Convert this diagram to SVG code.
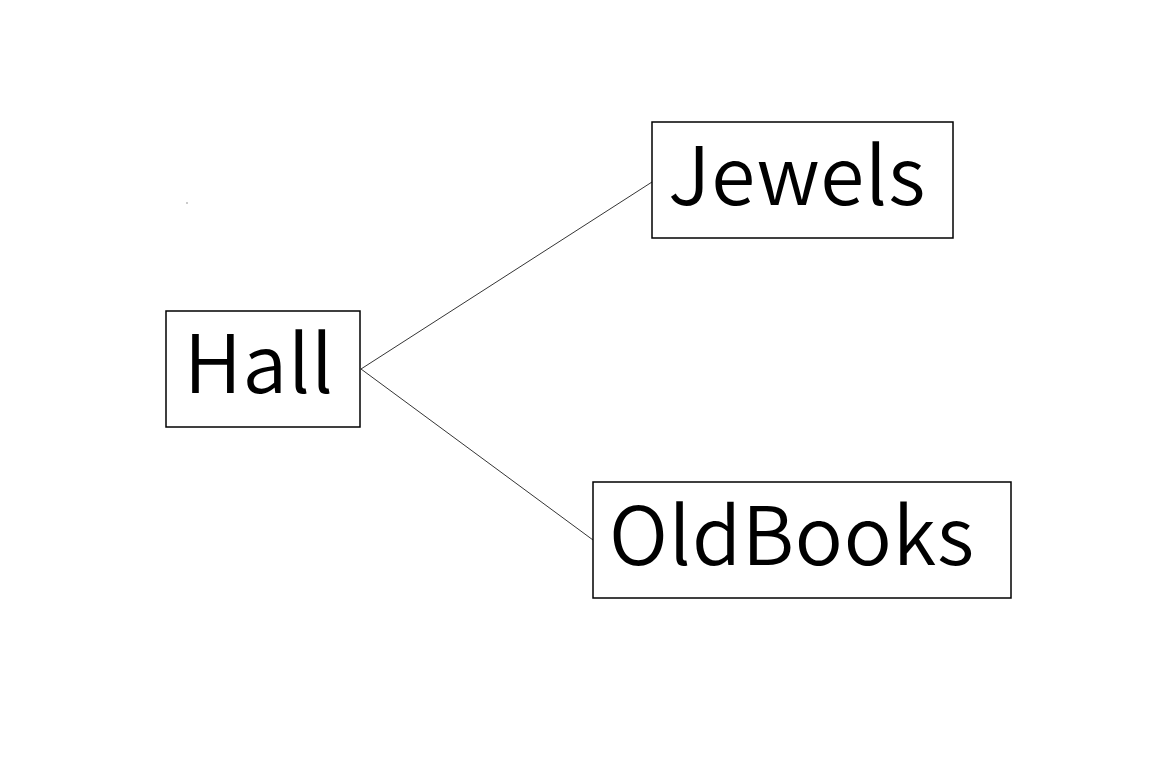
<svg xmlns="http://www.w3.org/2000/svg" width="1152" height="768" viewBox="0 0 1152 768">
<style>
.box{fill:#fff;stroke:#000;stroke-width:1.5}
.lbl{font-family:"Noto Sans CJK JP","Noto Sans",sans-serif;font-size:80px;font-weight:350;letter-spacing:0.8px;fill:#000}
.edge{stroke:#000;stroke-width:0.8;fill:none}
</style>
<rect width="1152" height="768" fill="#fff"/>
<rect x="186.5" y="202.5" width="1" height="1" fill="#333"/>
<g id="connectors">
<line class="edge" x1="361" y1="369" x2="652" y2="182"/>
<line class="edge" x1="361" y1="369" x2="593" y2="540"/>
</g>
<g id="node-hall">
<rect class="box" x="166" y="311" width="194" height="116"/>
<text class="lbl" x="184" y="393">Hall</text>
</g>
<g id="node-jewels">
<rect class="box" x="652" y="122" width="301" height="116"/>
<text class="lbl" x="668" y="205">Jewels</text>
</g>
<g id="node-oldbooks">
<rect class="box" x="593" y="482" width="418" height="116"/>
<text class="lbl" x="609" y="565">OldBooks</text>
</g>
</svg>
